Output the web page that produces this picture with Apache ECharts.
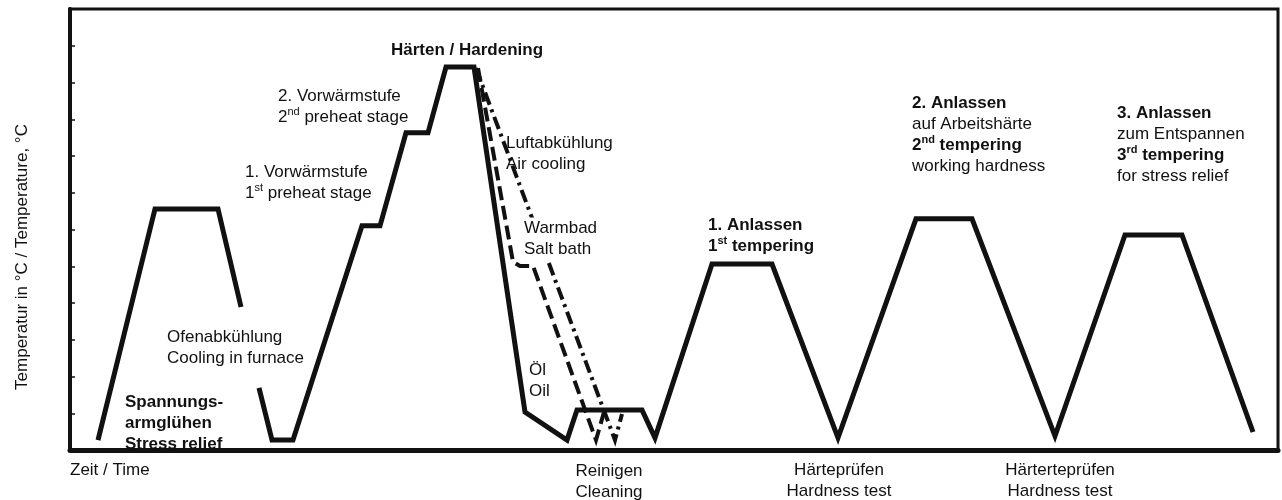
<!DOCTYPE html>
<html>
<head>
<meta charset="utf-8">
<script src="https://cdn.jsdelivr.net/npm/echarts@6/dist/echarts.min.js"></script>
<style>
  html, body { margin: 0; background: #fff; }
  #chart { width: 1282px; height: 500px; }
</style>
</head>
<body>
<div id="chart"></div>
<script>
// Wärmebehandlung - Zeit/Temperatur-Verlauf (x: Zeit, y: Temperatur, beliebige Einheiten)
const stressRelief = [[2.8, 0.27], [8.5, 6.56], [14.8, 6.56], [17.1, 3.89]];

// Ofenabkühlung -> Vorwärmen -> Härten (Öl) -> Reinigen -> 3x Anlassen
const mainCycle = [
    [18.9, 1.69], [20.2, 0.27], [22.3, 0.27],
    [29.2, 6.10], [31.0, 6.10],
    [33.6, 8.63], [35.8, 8.63],
    [37.6, 10.42], [40.4, 10.42],
    [45.5, 1.03], [49.7, 0.27],
    [50.7, 1.09], [57.2, 1.09], [58.5, 0.33],
    [64.2, 5.06], [70.2, 5.06], [76.8, 0.33],
    [84.6, 6.29], [90.2, 6.29], [98.5, 0.38],
    [105.5, 5.85], [111.2, 5.85], [118.3, 0.49]
];

const saltBath = [[40.8, 10.39], [44.3, 5.12], [45.0, 5.01], [46.3, 5.01], [52.6, 0.27], [53.4, 1.03]];
const airCooling = [[40.6, 10.39], [54.5, 0.27], [55.2, 0.98]];

const yMin = 0, yMax = 12, yStep = 1;
const xMin = 0, xMax = 120.8;

const FONT = "'Liberation Sans', Arial, Helvetica, sans-serif";
const INK = '#111';

const rich = {
    r: { fontFamily: FONT, fontSize: 17, fontWeight: 'normal', lineHeight: 21, fill: INK, color: INK },
    b: { fontFamily: FONT, fontSize: 17, fontWeight: 'bold', lineHeight: 21, fill: INK, color: INK },
    s: { fontFamily: FONT, fontSize: 11, fontWeight: 'normal', lineHeight: 12, verticalAlign: 'top', fill: INK, color: INK },
    sb: { fontFamily: FONT, fontSize: 11, fontWeight: 'bold', lineHeight: 12, verticalAlign: 'top', fill: INK, color: INK }
};

function note(x, yFirst, text, align, extra) {
    return {
        type: 'text',
        x: x,
        y: yFirst - 10.5,
        z: 100,
        style: Object.assign({
            text: text,
            rich: rich,
            align: align || 'left',
            verticalAlign: 'top',
            fill: INK
        }, extra || {})
    };
}

const notes = [
    note(125, 402, '{b|Spannungs-}\n{b|armglühen}\n{b|Stress relief}'),
    note(167, 337, '{r|Ofenabkühlung}\n{r|Cooling in furnace}'),
    note(245, 172, '{r|1. Vorwärmstufe}\n{r|1}{s|st}{r| preheat stage}'),
    note(278, 96, '{r|2. Vorwärmstufe}\n{r|2}{s|nd}{r| preheat stage}'),
    note(391, 50, '{b|Härten / Hardening}'),
    note(506, 143, '{r|Luftabkühlung}\n{r|Air cooling}'),
    note(524, 228, '{r|Warmbad}\n{r|Salt bath}', 'left', { backgroundColor: '#fff', padding: [0, 2, 0, 0] }),
    note(529, 370, '{r|Öl}\n{r|Oil}'),
    note(708, 225, '{b|1. Anlassen}\n{b|1}{sb|st}{b| tempering}'),
    note(912, 103, '{b|2. Anlassen}\n{r|auf Arbeitshärte}\n{b|2}{sb|nd}{b| tempering}\n{r|working hardness}'),
    note(1117, 113, '{b|3. Anlassen}\n{r|zum Entspannen}\n{b|3}{sb|rd}{b| tempering}\n{r|for stress relief}'),
    note(70, 470, '{r|Zeit / Time}'),
    note(609, 471, '{r|Reinigen}\n{r|Cleaning}', 'center'),
    note(839, 470, '{r|Härteprüfen}\n{r|Hardness test}', 'center'),
    note(1060, 470, '{r|Härterteprüfen}\n{r|Hardness test}', 'center'),
    {
        type: 'text',
        x: 22,
        y: 257,
        rotation: Math.PI / 2,
        z: 100,
        style: {
            text: 'Temperatur in °C / Temperature, °C',
            font: '17px ' + FONT,
            fill: INK,
            align: 'center',
            verticalAlign: 'middle'
        }
    }
];

function lineSeries(data, width, type) {
    return {
        type: 'line',
        data: data,
        symbol: 'none',
        silent: true,
        animation: false,
        lineStyle: { color: INK, width: width, type: type || 'solid', cap: 'butt', join: 'miter' }
    };
}

const chart = echarts.init(document.getElementById('chart'));
chart.setOption({
    animation: false,
    grid: { left: 70, right: 4, top: 9, bottom: 50, show: true, borderColor: INK, borderWidth: 3 },
    xAxis: {
        type: 'value', min: xMin, max: xMax,
        axisLine: { show: true, lineStyle: { color: INK, width: 5 } },
        axisTick: { show: false }, axisLabel: { show: false }, splitLine: { show: false }
    },
    yAxis: {
        type: 'value', min: yMin, max: yMax, interval: yStep,
        axisLine: { show: true, lineStyle: { color: INK, width: 4 } },
        axisTick: { show: true, inside: true, length: 5, lineStyle: { color: INK, width: 1.5 } },
        axisLabel: { show: false }, splitLine: { show: false }
    },
    series: [
        lineSeries(saltBath, 4, [14, 6]),
        lineSeries(airCooling, 4, [13, 5, 3, 5]),
        lineSeries(stressRelief, 5),
        lineSeries(mainCycle, 5)
    ],
    graphic: notes
});
</script>
</body>
</html>
